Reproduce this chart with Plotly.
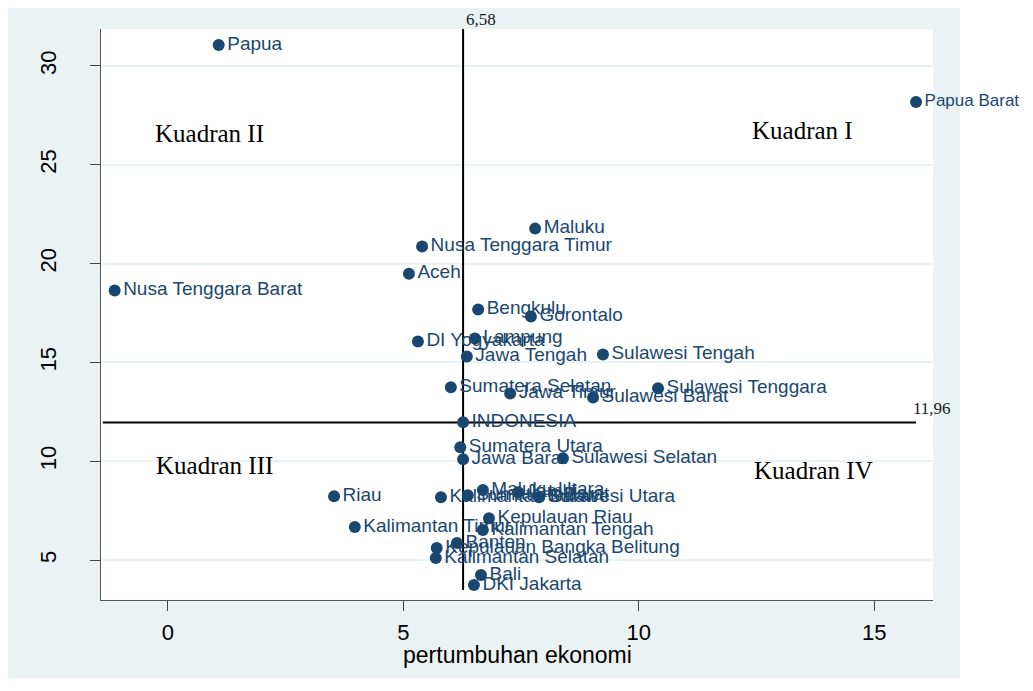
import plotly.graph_objects as go

# ---- data ----
provinces = [
    "Papua", "Papua Barat", "Maluku", "Nusa Tenggara Timur", "Aceh",
    "Nusa Tenggara Barat", "Bengkulu", "Gorontalo", "Lampung", "DI Yogyakarta",
    "Jawa Tengah", "Sulawesi Tengah", "Sumatera Selatan", "Jawa Timur",
    "Sulawesi Tenggara", "Sulawesi Barat", "INDONESIA", "Sumatera Utara",
    "Jawa Barat", "Sulawesi Selatan", "Riau", "Kalimantan Barat",
    "Sumatera Barat", "Maluku Utara", "Jambi", "Sulawesi Utara",
    "Kepulauan Riau", "Kalimantan Tengah", "Kalimantan Timur", "Banten",
    "Kepulauan Bangka Belitung", "Kalimantan Selatan", "Bali", "DKI Jakarta",
]
growth = [
    1.08, 15.89, 7.80, 5.40, 5.12,
    -1.13, 6.59, 7.71, 6.52, 5.31,
    6.35, 9.24, 6.01, 7.27,
    10.41, 9.03, 6.27, 6.21,
    6.27, 8.39, 3.53, 5.80,
    6.37, 6.69, 7.44, 7.88,
    6.82, 6.69, 3.97, 6.14,
    5.71, 5.69, 6.65, 6.50,
]
poverty = [
    31.06, 28.18, 21.77, 20.86, 19.49,
    18.64, 17.68, 17.32, 16.21, 16.06,
    15.30, 15.40, 13.74, 13.43,
    13.69, 13.23, 11.97, 10.71,
    10.10, 10.15, 8.23, 8.18,
    8.28, 8.54, 8.43, 8.18,
    7.12, 6.52, 6.67, 5.86,
    5.61, 5.10, 4.24, 3.74,
]

# reference lines (national position)
vline_x = 6.27
vline_y_range = [3.48, 31.87]
hline_y = 11.96
hline_x_range = [-1.38, 15.89]
vline_label = "6,58"
hline_label = "11,96"

quadrant_labels = ["Kuadran I", "Kuadran II", "Kuadran III", "Kuadran IV"]
quadrant_x = [13.47, 0.89, 0.98, 13.72]
quadrant_y = [26.72, 26.57, 9.80, 9.55]

x_ticks = [0, 5, 10, 15]
y_ticks = [5, 10, 15, 20, 25, 30]
x_title = "pertumbuhan ekonomi"

NAVY = "#1a476f"
OUTER = "#eaf2f3"
SERIF = "Liberation Serif, Times New Roman, serif"
SANS = "Liberation Sans, Arial, sans-serif"

# slightly smaller text for the label at the right page edge so it stays visible
label_sizes = [17 if p == "Papua Barat" else 19 for p in provinces]

fig = go.Figure()

# reference lines
fig.add_trace(go.Scatter(
    x=[vline_x, vline_x], y=vline_y_range, mode="lines",
    line=dict(color="black", width=2), hoverinfo="skip", showlegend=False,
    cliponaxis=False))
fig.add_trace(go.Scatter(
    x=hline_x_range, y=[hline_y, hline_y], mode="lines",
    line=dict(color="black", width=2), hoverinfo="skip", showlegend=False,
    cliponaxis=False))

# points
fig.add_trace(go.Scatter(
    x=growth, y=poverty, mode="markers+text", text=provinces,
    textposition="middle right",
    textfont=dict(family=SANS, size=label_sizes, color=NAVY),
    marker=dict(color=NAVY, size=12, line=dict(width=0)),
    cliponaxis=False, showlegend=False))

annotations = []
for t, qx, qy in zip(quadrant_labels, quadrant_x, quadrant_y):
    annotations.append(dict(
        x=qx, y=qy, xref="x", yref="y", text=t, showarrow=False,
        font=dict(family=SERIF, size=25, color="black"),
        xanchor="center", yanchor="middle"))
annotations.append(dict(
    x=vline_x, y=1.0158, xref="x", yref="paper", text=vline_label, showarrow=False,
    xanchor="left", yanchor="middle", xshift=1,
    font=dict(family=SERIF, size=17, color="#1a1a1a")))
annotations.append(dict(
    x=hline_x_range[1], y=hline_y, xref="x", yref="y", text=hline_label, showarrow=False,
    xanchor="left", yanchor="bottom", xshift=-5, yshift=3,
    font=dict(family=SERIF, size=17, color="#1a1a1a")))
annotations.append(dict(
    x=0.5, y=-0.0963, xref="paper", yref="paper", text=x_title, showarrow=False,
    xanchor="center", yanchor="middle",
    font=dict(family=SANS, size=23, color="black")))

shapes = [
    dict(type="rect", xref="paper", yref="paper", x0=-0.113, x1=1.0325,
         y0=-0.1366, y1=1.0438, fillcolor=OUTER, line=dict(width=0), layer="below"),
    dict(type="rect", xref="paper", yref="paper", x0=0, x1=1, y0=0, y1=1,
         fillcolor="white", line=dict(width=0), layer="below"),
]

# the page body adds an 8px offset; size and margins compensate for it
fig.update_layout(
    width=1025, height=675,
    margin=dict(l=93, r=100, t=21, b=83),
    paper_bgcolor="white", plot_bgcolor="white",
    shapes=shapes, annotations=annotations,
    font=dict(family=SANS, color="black"),
    xaxis=dict(
        range=[-1.42, 16.25], tickvals=x_ticks, ticks="outside", ticklen=10,
        tickwidth=1.3, tickcolor="#444", showline=True, linecolor="#555", linewidth=1.3,
        showgrid=False, zeroline=False, tickfont=dict(size=22, color="black"),
        ticklabelstandoff=2,
    ),
    yaxis=dict(
        range=[2.98, 31.87], tickvals=y_ticks, ticks="outside", ticklen=10,
        tickwidth=1.3, tickcolor="#444", showline=True, linecolor="#555", linewidth=1.3,
        showgrid=True, gridcolor=OUTER, gridwidth=1.5, zeroline=False,
        tickangle=-90, tickfont=dict(size=22, color="black"), ticklabelstandoff=25,
    ),
)

fig.write_html("out.html")
